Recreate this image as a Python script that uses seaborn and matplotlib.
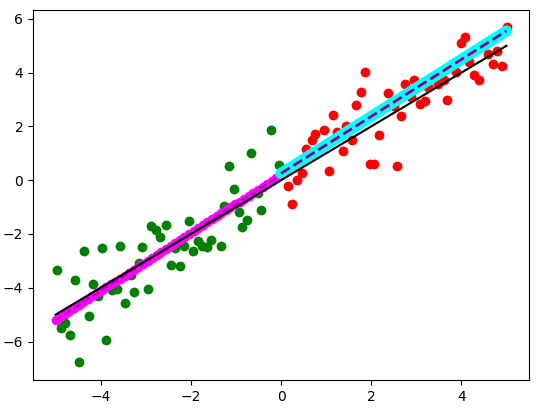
import numpy as np
import pandas as pd
import matplotlib
matplotlib.use("Agg")
import matplotlib.pyplot as plt
import seaborn as sns

# green points (x < 0)
neg_x = [-4.97, -4.37, -3.98, -3.58, -3.08, -4.57, -4.17, -4.06, -3.74, -3.63,
         -3.27, -2.96, -3.47, -4.26, -4.89, -4.78, -4.69, -3.87, -4.48, -3.33,
         -3.16, -2.88, -2.77, -2.68, -2.56, -2.05, -1.85, -1.64, -1.55, -1.75,
         -1.34, -1.96, -2.16, -2.35, -2.45, -2.24, -1.26, -1.15, -1.05, -0.94,
         -0.86, -0.75, -0.66, -0.52, -0.44, -0.22, -0.04]
neg_y = [-3.33, -2.64, -2.53, -2.44, -2.48, -3.72, -3.85, -4.30, -4.07, -4.05,
         -4.15, -4.05, -4.56, -5.05, -5.49, -5.32, -5.75, -5.93, -6.77, -3.52,
         -3.09, -1.70, -1.85, -2.12, -1.67, -1.52, -2.25, -2.49, -2.22, -2.44,
         -2.44, -2.63, -2.44, -2.53, -3.16, -3.20, -0.96, 0.52, -0.31, -1.17,
         -1.75, -1.48, 1.03, -0.49, -1.09, 1.85, 0.58]

# red points (x > 0)
pos_x = [1.86, 1.77, 1.66, 2.37, 2.74, 2.67, 1.16, 0.96, 0.75, 0.68,
         1.25, 1.45, 1.58, 1.38, 2.17, 0.55, 1.97, 2.06, 2.58, 1.07,
         0.47, 0.36, 0.16, 0.25, 0.10, 2.96, 2.89, 3.09, 3.19, 3.69,
         3.88, 4.00, 4.09, 4.18, 4.29, 4.39, 4.59, 4.70, 4.79, 4.90,
         5.01, 3.61, 3.48, 3.26, 2.50]
pos_y = [4.04, 3.28, 2.81, 3.25, 3.58, 2.37, 2.41, 1.85, 1.70, 1.51,
         1.80, 2.00, 1.48, 1.07, 1.67, 1.15, 0.59, 0.62, 0.54, 0.33,
         0.25, 0.00, -0.20, -0.89, 0.35, 3.74, 3.09, 2.84, 2.96, 3.00,
         4.01, 5.12, 5.31, 4.38, 3.93, 3.74, 4.69, 4.32, 4.81, 4.23,
         5.70, 3.73, 3.58, 3.46, 2.75]

# reference line y = x
ref_x = [-5, 5]
ref_y = [-5, 5]

# fitted lines [slope, intercept]
neg_fit = [1.08, 0.20]
pos_fit = [1.06, 0.25]
neg_range = [-5, 0]
pos_range = [0, 5]

fig = plt.figure(figsize=(5.39, 4.13), dpi=100)
ax = fig.add_axes([33 / 539, 33 / 413, 496 / 539, 370 / 413])

sns.scatterplot(x=neg_x, y=neg_y, color="green", s=50, linewidth=0, ax=ax, zorder=1)
sns.scatterplot(x=pos_x, y=pos_y, color="red", s=50, linewidth=0, ax=ax, zorder=1)

xn = np.linspace(neg_range[0], neg_range[1], 50)
xp = np.linspace(pos_range[0], pos_range[1], 50)
ax.plot(xn, np.polyval(neg_fit, xn), "o", color="magenta", markersize=6, zorder=2)
ax.plot(xn, np.polyval(neg_fit, xn), "--", color="purple", linewidth=1.5, alpha=0.6, zorder=2.1)
ax.plot(xp, np.polyval(pos_fit, xp), "-", color="cyan", linewidth=8,
        solid_capstyle="round", zorder=2.2)

sns.lineplot(x=ref_x, y=ref_y, color="black", linewidth=1.5, ax=ax, zorder=2.3)

ax.plot(xp, np.polyval(pos_fit, xp), "--", color="purple", linewidth=2, zorder=2.4)

ax.set_xlim(-5.5, 5.5)
ax.set_ylim(-7.43, 6.33)
ax.set_xticks([-4, -2, 0, 2, 4])
ax.set_yticks([-6, -4, -2, 0, 2, 4, 6])

fig.savefig("out.png", dpi=100)
